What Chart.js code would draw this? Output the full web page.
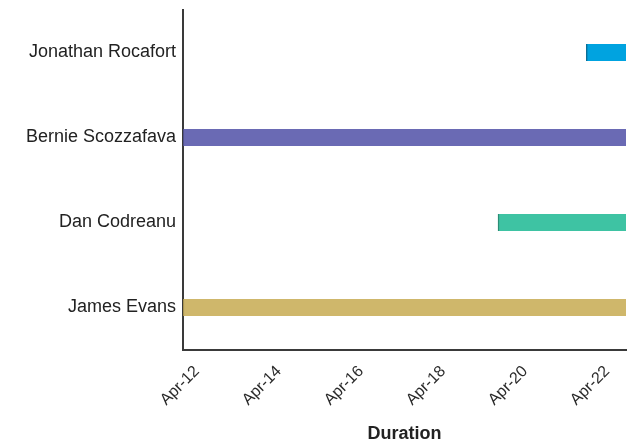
<!DOCTYPE html>
<html>
<head>
<meta charset="utf-8">
<script src="https://cdn.jsdelivr.net/npm/chart.js@4/dist/chart.umd.min.js"></script>
<style>
  html, body { margin: 0; padding: 0; background: #fff; }
  #wrap { width: 636px; height: 443px; }
</style>
</head>
<body>
<div id="wrap"><canvas id="c"></canvas></div>
<script>
// Categories (top to bottom)
const categories = ["Jonathan Rocafort", "Bernie Scozzafava", "Dan Codreanu", "James Evans"];
// Start and end of each task, in April day numbers
const startDays = [21.83, 12, 19.68, 12];
const endDays   = [22.8, 22.8, 22.8, 22.8];
const barColors = ["#00A3E0", "#6A6AB4", "#3EC3A3", "#CFB76B"];
const borderColors = ["#0B6E96", "#4F4F8A", "#2A8E76", "#A8934F"];
// Tick labels
const tickDays = [12, 14, 16, 18, 20, 22];
const tickLabels = ["Apr-12", "Apr-14", "Apr-16", "Apr-18", "Apr-20", "Apr-22"];
const axisMin = 12, axisMax = 22.8;

const data = categories.map((c, i) => [startDays[i], endDays[i]]);

new Chart(document.getElementById('c'), {
  type: 'bar',
  data: {
    labels: categories,
    datasets: [{
      data: data,
      backgroundColor: barColors,
      borderColor: borderColors,
      borderWidth: {left: 1.5, right: 0, top: 0, bottom: 0},
      borderSkipped: false,
      barThickness: 17
    }]
  },
  options: {
    indexAxis: 'y',
    responsive: true,
    maintainAspectRatio: false,
    animation: false,
    layout: { padding: { top: 0, right: 10, left: 0, bottom: 0 } },
    plugins: { legend: { display: false }, tooltip: { enabled: false } },
    scales: {
      x: {
        type: 'linear',
        min: axisMin,
        max: axisMax,
        afterBuildTicks: (s) => { s.ticks = tickDays.map(v => ({ value: v })); },
        afterFit: (s) => { s.height = 93; },
        grid: { display: false, drawTicks: false },
        border: { display: true, color: '#3a3a3a', width: 2 },
        ticks: {
          autoSkip: false,
          minRotation: 45,
          maxRotation: 45,
          padding: 12,
          labelOffset: 14,
          color: '#2a2a2a',
          font: { family: 'Liberation Sans, Arial, sans-serif', size: 16 },
          callback: (v) => { const i = tickDays.indexOf(v); return i >= 0 ? tickLabels[i] : ''; }
        },
        title: {
          display: true,
          text: 'Duration',
          color: '#222',
          font: { family: 'Liberation Sans, Arial, sans-serif', size: 18, weight: 'bold' },
          padding: { top: 0, bottom: -2 }
        }
      },
      y: {
        afterFit: (s) => { s.width = 183; s.paddingTop = 10; s.paddingBottom = 0; },
        grid: { display: false, drawTicks: false },
        border: { display: true, color: '#3a3a3a', width: 2 },
        ticks: {
          padding: 7,
          color: '#222',
          font: { family: 'Liberation Sans, Arial, sans-serif', size: 18 }
        }
      }
    }
  }
});
</script>
</body>
</html>
